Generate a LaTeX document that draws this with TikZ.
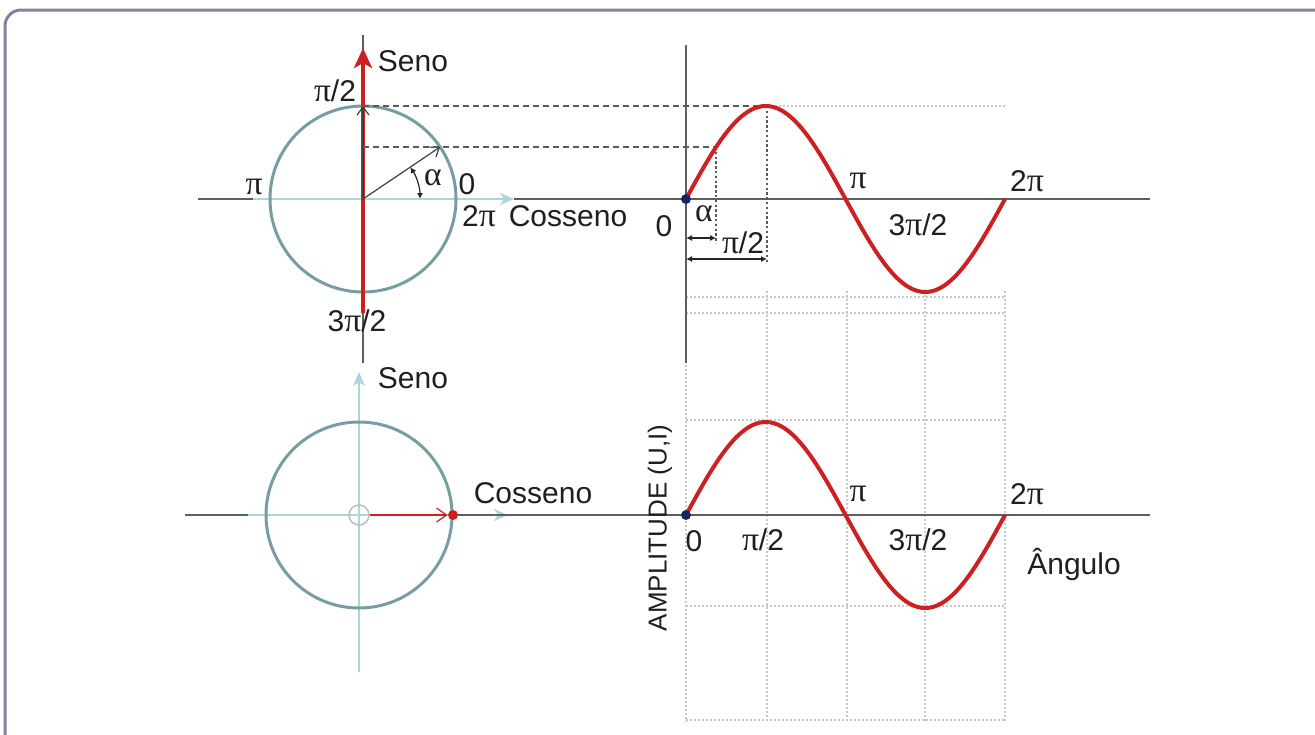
\documentclass[tikz,border=0pt]{standalone}
\usepackage{fontspec}
\setmainfont{Liberation Sans}
\newfontfamily\grk[Scale=1.12]{Liberation Serif}
\usetikzlibrary{arrows.meta}
\newcommand{\gpi}{{\grk π}}
\newcommand{\gal}{{\grk α}}
\definecolor{framec}{RGB}{135,126,160}
\definecolor{circc}{RGB}{118,158,162}
\definecolor{cyanl}{RGB}{172,214,220}
\definecolor{redc}{RGB}{205,32,32}
\definecolor{axisc}{RGB}{95,95,95}
\definecolor{navy}{RGB}{25,35,100}
\definecolor{gridc}{RGB}{200,200,200}
\definecolor{dashc}{RGB}{90,90,90}
\tikzset{
  lbl/.style={font=\fontsize{15}{18}\selectfont, inner sep=0pt, text=black!88},
  framestyle/.style={draw=framec, line width=1.5pt, rounded corners=8pt},
  axisline/.style={draw=axisc, line width=1pt},
  cyanaxis/.style={draw=cyanl, line width=1pt, -{Stealth[length=7pt,width=6pt,inset=2pt]}},
  circstyle/.style={draw=circc, line width=1.5pt},
  redarrow/.style={draw=redc, line width=2pt, -{Stealth[length=10pt,width=9pt,inset=2.5pt]}},
  thinarrow/.style={draw=black!75, line width=0.6pt, -{Straight Barb[length=4pt,width=6pt]}},
  dimarrow/.style={draw=black!85, line width=0.6pt, {Latex[length=3pt,width=3pt]}-{Latex[length=3pt,width=3pt]}},
  sinecurve/.style={draw=redc, line width=2pt},
  gridline/.style={draw=gridc, line width=0.7pt, dash pattern=on 1pt off 1pt},
  dashline/.style={draw=dashc, line width=0.6pt, dash pattern=on 3pt off 2pt},
  dotline/.style={draw=dashc, line width=0.8pt, dash pattern=on 1.2pt off 1.2pt},
  dotnode/.style={circle, fill=navy, inner sep=0pt, minimum size=5pt},
}
\begin{document}
\begin{tikzpicture}[x=0.5pt, y=-0.5pt]
\useasboundingbox (0,0) rectangle (1315,734);
% frame
\draw[framestyle] (5,780) |- (1340,10);

\pgfmathsetmacro{\al}{34}
\pgfmathsetmacro{\px}{363+93*cos(\al)}
\pgfmathsetmacro{\py}{199-93*sin(\al)}
\pgfmathsetmacro{\sx}{686+\al*0.88611}

% ---------- top: coordinates ----------
\coordinate (C1) at (363,199);
\coordinate (C1top) at (363,106);
\coordinate (P) at (\px,\py);
\coordinate (S) at (\sx,\py);
\coordinate (Pax) at (363,\py);
\coordinate (Peak1) at (767,106);
\coordinate (G1end) at (1005,106);
\coordinate (VA1t) at (363,35);
\coordinate (VA1b) at (363,363);
\coordinate (R1b) at (363,313);
\coordinate (R1t) at (363,48);
\coordinate (H1a) at (198,199);
\coordinate (H1b) at (253,199);
\coordinate (H1c) at (514,199);
\coordinate (H1d) at (1150,199);
\coordinate (O1) at (686,199);
\coordinate (Y1t) at (686,45);
\coordinate (Y1b) at (686,363);

% grid (shared lower panel)
\foreach \gx in {767,847,925,1005}{
  \coordinate (gt\gx) at (\gx,291);
  \coordinate (gb\gx) at (\gx,722);
  \draw[gridline] (gt\gx) -- (gb\gx);
}
\coordinate (g0t) at (686,365);
\coordinate (g0b) at (686,722);
\draw[gridline] (g0t) -- (g0b);
\foreach \gy in {297,313,420,606,720}{
  \coordinate (gl\gy) at (686,\gy);
  \coordinate (gr\gy) at (1005,\gy);
  \draw[gridline] (gl\gy) -- (gr\gy);
}
\draw[gridline] (Peak1) -- (G1end);

% axes top
\draw[axisline] (VA1t) -- (VA1b);
\draw[axisline] (H1a) -- (H1b);
\draw[axisline] (H1c) -- (H1d);
\draw[axisline] (Y1t) -- (Y1b);
\draw[cyanaxis] (H1b) -- (H1c);
\draw[circstyle] (C1) circle[radius=93];
\draw[redarrow] (R1b) -- (R1t);
\draw[thinarrow] (C1) -- (C1top);
\draw[thinarrow] (C1) -- (P);
% angle arc
\coordinate (Arc0) at (420,199);
\draw[draw=black!85, line width=0.6pt, {Latex[length=3pt,width=3pt]}-{Latex[length=3pt,width=3pt]}] (Arc0) arc[start angle=0, end angle=-\al, radius=57];

% dashed projections
\draw[dashline] (C1top) -- (Peak1);
\draw[dashline] (Pax) -- (S);
\coordinate (Sd) at (\sx,243);
\coordinate (Pkd) at (767,263);
\draw[dotline] (S) -- (Sd);
\draw[dotline] (Peak1) -- (Pkd);
% dimension arrows
\coordinate (DA1) at (686,238);
\coordinate (DA2) at (\sx,238);
\coordinate (DB1) at (686,259);
\coordinate (DB2) at (767,259);
\draw[dimarrow] (DA1) -- (DA2);
\draw[dimarrow] (DB1) -- (DB2);

% sine top
\draw[sinecurve] plot[domain=0:360, samples=120] ({686+\x*0.88611},{199-93*sin(\x)});
\node[dotnode] (dot1) at (O1) {};

% labels top
\node[lbl] (seno1) at (413,61) {Seno};
\node[lbl] (lpi2a) at (335,91) {\gpi/2};
\node[lbl] (lpia) at (254,187) {\gpi};
\node[lbl] (l0a) at (467,184) {0};
\node[lbl] (l2pia) at (479,216) {2\gpi};
\node[lbl] (cos1) at (568,216) {Cosseno};
\node[lbl] (l3pia) at (357,321) {3\gpi/2};
\node[lbl] (alpha1) at (433,178) {\gal};
\node[lbl] (l0b) at (664,226) {0};
\node[lbl] (alpha2) at (704,214) {\gal};
\node[lbl] (lpi2b) at (743,243) {\gpi/2};
\node[lbl] (lpib) at (858,181) {\gpi};
\node[lbl] (l2pib) at (1027,181) {2\gpi};
\node[lbl] (l3pib) at (918,225) {3\gpi/2};

% ---------- bottom ----------
\coordinate (C2) at (359,515);
\coordinate (V2t) at (359,372);
\coordinate (V2b) at (359,672);
\coordinate (H2a) at (185,515);
\coordinate (H2b) at (248,515);
\coordinate (H2c) at (508,515);
\coordinate (H2d) at (1150,515);
\coordinate (Q) at (453,515);
\coordinate (O2) at (686,515);

\draw[axisline] (H2a) -- (H2b);
\draw[cyanaxis] (H2b) -- (H2c);
\draw[axisline] (Q) -- (H2d);
\draw[draw=cyanl, line width=1pt, -{Stealth[length=7pt,width=6pt,inset=2pt]}] (V2b) -- (V2t);
\draw[circstyle] (C2) circle[radius=93];
\node[circle, draw=gray!50, line width=0.8pt, minimum size=10pt, inner sep=0pt] (hub) at (C2) {};
\node[circle, fill=redc, inner sep=0pt, minimum size=5pt] (qdot) at (Q) {};
\draw[draw=redc, line width=0.6pt, -{Straight Barb[length=5pt,width=7pt]}] (hub) -- (qdot);

\draw[sinecurve] plot[domain=0:360, samples=120] ({686+\x*0.88611},{515-93*sin(\x)});
\node[dotnode] (dot2) at (O2) {};

\node[lbl] (seno2) at (413,378) {Seno};
\node[lbl] (cos2) at (533,493) {Cosseno};
\node[lbl] (l0c) at (694,541) {0};
\node[lbl] (lpi2c) at (763,540) {\gpi/2};
\node[lbl] (lpic) at (858,494) {\gpi};
\node[lbl] (l2pic) at (1027,494) {2\gpi};
\node[lbl] (l3pic) at (918,540) {3\gpi/2};
\node[lbl] (ang) at (1074,564) {Ângulo};
\node[lbl, font=\fontsize{13}{15}\selectfont, rotate=90] (amp) at (660,528) {AMPLITUDE (U,I)};
\end{tikzpicture}
\end{document}
